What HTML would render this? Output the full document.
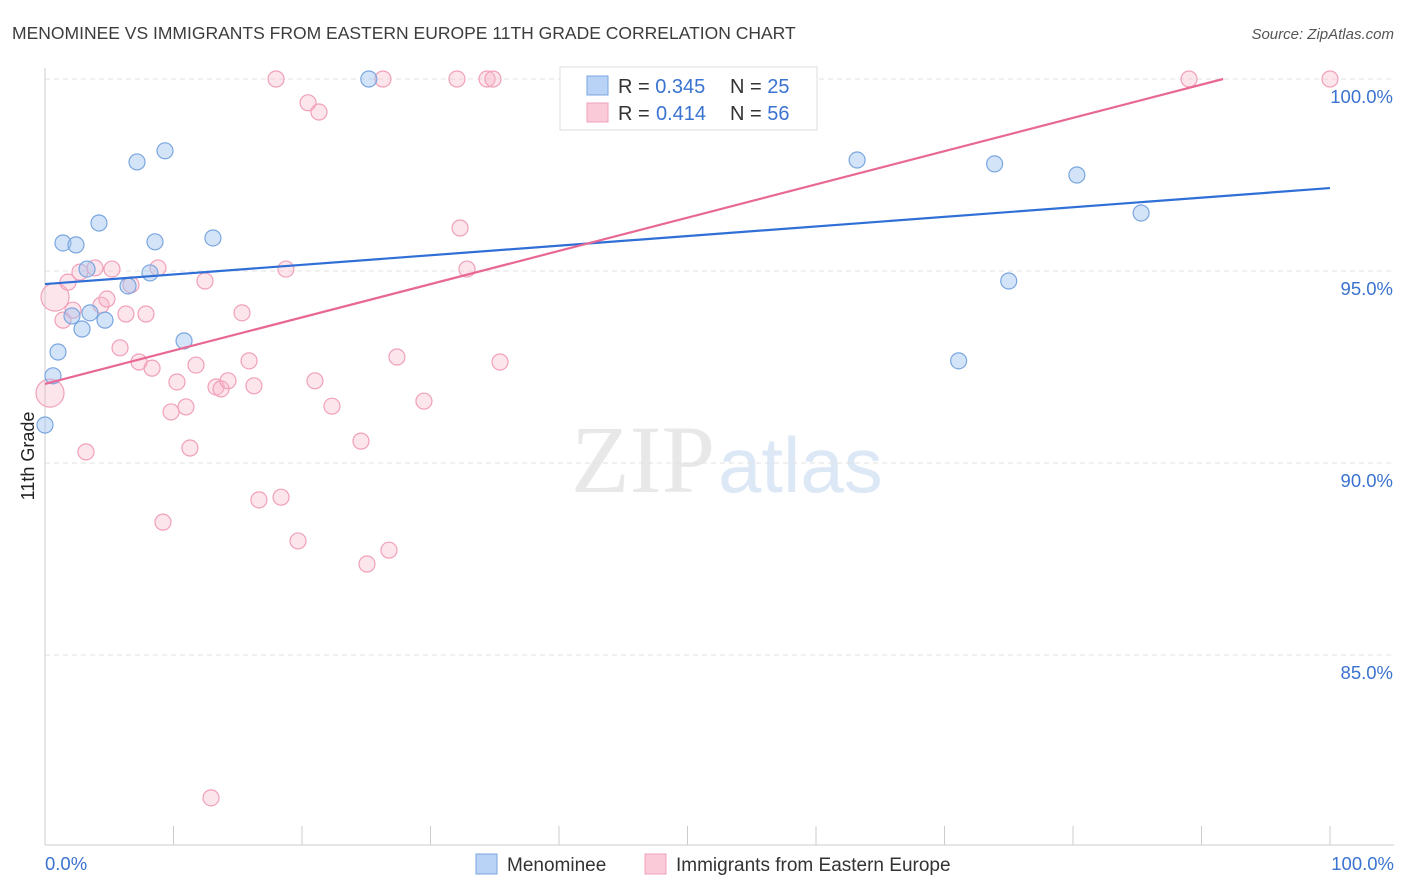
<!DOCTYPE html>
<html><head><meta charset="utf-8"><style>
body{margin:0;background:#fff;font-family:"Liberation Sans",sans-serif}
svg{display:block}
</style></head><body>
<svg id="chart" width="1406" height="892">
<text x="12" y="39" font-size="17.5" fill="#3c3c3c">MENOMINEE VS IMMIGRANTS FROM EASTERN EUROPE 11TH GRADE CORRELATION CHART</text>
<text x="1394" y="39" font-size="15" fill="#555" font-style="italic" text-anchor="end">Source: ZipAtlas.com</text>
<text x="715" y="492" font-size="96" fill="#e8e8e8" text-anchor="end" font-family="Liberation Serif">ZIP</text>
<text x="718" y="492" font-size="78" fill="#dce8f6">atlas</text>
<text x="34" y="456" font-size="18" fill="#222" transform="rotate(-90 34 456)" text-anchor="middle">11th Grade</text>
<g id="grid"></g><g id="marks"></g><g id="lines"></g>
<g>
<rect x="560" y="67" width="257" height="63" fill="#fff" stroke="#ddd"/>
<rect x="587" y="76" width="21" height="19" fill="#b8d3f5" stroke="#7aa6e0"/>
<rect x="587" y="103" width="21" height="19" fill="#fbcad8" stroke="#f0a0b8"/>
<text x="618" y="93" font-size="20" fill="#333">R = <tspan fill="#3a73d0">0.345</tspan><tspan x="730">N = </tspan><tspan fill="#3a73d0">25</tspan></text>
<text x="618" y="120" font-size="20" fill="#333">R = <tspan fill="#3a73d0" x="656">0.414</tspan><tspan x="730">N = </tspan><tspan fill="#3a73d0">56</tspan></text>
</g>
<g>
<rect x="476" y="854" width="21" height="20" fill="#b8d3f5" stroke="#7aa6e0"/>
<text x="507" y="871" font-size="19" fill="#333">Menominee</text>
<rect x="645" y="854" width="21" height="20" fill="#fbcad8" stroke="#f0a0b8"/>
<text x="676" y="871" font-size="19" fill="#333">Immigrants from Eastern Europe</text>
</g>
</svg>
<script>
const blueX=[0,0.62,1.01,1.4,2.41,2.1,2.88,3.27,3.5,4.2,4.67,6.46,7.16,8.17,8.56,9.34,10.82,13.07,25.2,63.2,71.1,73.9,75.0,80.3,85.3];
const blueY=[90.99,92.27,92.89,95.73,95.68,93.83,93.49,95.05,93.91,96.25,93.72,94.61,97.84,94.95,95.76,98.13,93.18,95.86,100,97.89,92.66,97.79,94.74,97.5,96.51];
const pinkX=[0.39,0.78,1.4,1.79,2.18,2.72,3.19,3.89,4.36,4.82,5.21,5.84,6.3,6.69,7.32,7.86,8.33,8.79,9.18,9.81,10.27,10.97,11.28,11.75,12.45,12.92,13.31,13.7,14.24,15.33,15.88,16.26,16.65,17.98,18.37,18.75,19.69,20.47,21.01,21.32,22.33,24.59,25.06,26.3,26.77,27.39,29.49,32.06,32.3,32.84,34.4,34.86,35.41,89.03,100];
const pinkY=[91.82,94.32,93.72,94.71,93.98,94.97,90.29,95.08,94.11,94.27,95.05,93.0,93.88,94.64,92.63,93.88,92.47,95.08,88.46,91.33,92.11,91.46,90.39,92.55,94.74,81.28,91.98,91.93,92.14,93.91,92.66,92.01,89.04,100,89.11,95.05,87.97,99.38,92.14,99.14,91.48,90.57,87.37,100,87.73,92.76,91.61,100,96.12,95.05,100,100,92.63,100,100];
const pinkBig=[0,1];
const blueLine=[94.66,97.16];
const pinkLine=[92.06,100.72];
const yTicks=[100,95,90,85];
const xTickLabels=["0.0%","100.0%"];
const NS="http://www.w3.org/2000/svg";
const X=v=>45+v*12.85, Y=v=>79+(100-v)*38.4;
function mk(p,t,a){const e=document.createElementNS(NS,t);for(const k in a)e.setAttribute(k,a[k]);p.appendChild(e);return e;}
const grid=document.getElementById('grid'),marks=document.getElementById('marks'),lines=document.getElementById('lines');
yTicks.forEach(t=>{
 const l=mk(grid,'line',{x1:45,x2:1394,y1:Y(t),y2:Y(t),stroke:'#e2e2e2','stroke-dasharray':'5,4'});
 
 
 const tx=mk(grid,'text',{x:1393,y:Y(t)+24,'font-size':18.5,fill:'#3a73d0','text-anchor':'end'});tx.textContent=t.toFixed(1)+'%';
 
 
});
const ax=mk(grid,'line',{x1:45,x2:45,y1:68,y2:845,stroke:'#ccc'});


const bx=mk(grid,'line',{x1:45,x2:1394,y1:845,y2:845,stroke:'#ccc'});


for(let i=0;i<=10;i++){const t=mk(grid,'line',{x1:X(i*10),x2:X(i*10),y1:826,y2:845,stroke:'#ccc'});
 
 }
[[0,'start',45],[100,'end',1394]].forEach((d,i)=>{const t=mk(grid,'text',{x:d[2],y:870,'font-size':18.5,fill:'#3a73d0','text-anchor':d[1]});t.textContent=xTickLabels[i];
 
 });
pinkX.forEach((x,i)=>{const c=mk(marks,'circle',{cx:X(x),cy:Y(pinkY[i]),r:pinkBig.includes(i)?14:8,fill:'rgba(248,180,200,0.35)',stroke:'#f0a0b8','stroke-width':1.2});
 
 });
blueX.forEach((x,i)=>{const c=mk(marks,'circle',{cx:X(x),cy:Y(blueY[i]),r:8,fill:'rgba(160,196,240,0.45)',stroke:'#7aa6e0','stroke-width':1.2});
 
 });
const bl=mk(lines,'line',{x1:X(0),y1:Y(blueLine[0]),x2:X(100),y2:Y(blueLine[1]),stroke:'#2f6fd6','stroke-width':2.2});


const xEnd=(100-pinkLine[0])/(pinkLine[1]-pinkLine[0])*100;
const pl=mk(lines,'line',{x1:X(0),y1:Y(pinkLine[0]),x2:X(Math.min(100,xEnd)),y2:Y(Math.min(100,pinkLine[1])),stroke:'#e86894','stroke-width':2.2});


</script>
</body></html>
